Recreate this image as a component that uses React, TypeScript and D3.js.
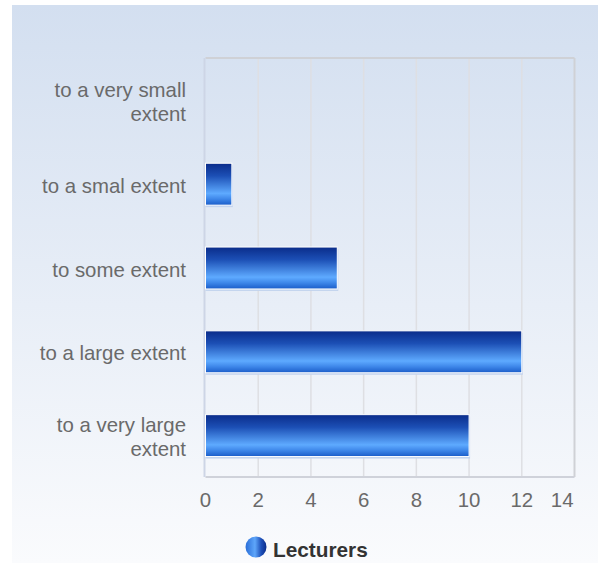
import React from "react";
import * as d3 from "d3";

const categories: string[][] = [
  ["to a very small", "extent"],
  ["to a smal extent"],
  ["to some extent"],
  ["to a large extent"],
  ["to a very large", "extent"],
];
const values: number[] = [0, 1, 5, 12, 10];
const xTicks: number[] = [0, 2, 4, 6, 8, 10, 12, 14];
const seriesName = "Lecturers";

const W = 598;
const H = 563;
const plot = { left: 205.5, right: 574.5, top: 58, bottom: 477 };

export default function App() {
  const x = d3.scaleLinear().domain([0, 14]).range([plot.left, plot.right]);
  const y = d3
    .scaleBand<number>()
    .domain(d3.range(values.length))
    .range([plot.top, plot.bottom])
    .paddingInner(0.5)
    .paddingOuter(0.25);
  const font = "'Liberation Sans', Arial, sans-serif";

  return (
    <svg
      width={W}
      height={H}
      style={{ position: "absolute", left: 0, top: 0 }}
      fontFamily={font}
    >
      <defs>
        <linearGradient id="bg" x1="0" y1="0" x2="0" y2="1">
          <stop offset="0" stopColor="#d3dff0" />
          <stop offset="1" stopColor="#fafbfd" />
        </linearGradient>
        <linearGradient id="bar" x1="0" y1="0" x2="0" y2="1">
          <stop offset="0" stopColor="#0a2c8a" />
          <stop offset="0.3" stopColor="#1c4fb5" />
          <stop offset="0.72" stopColor="#5eaaff" />
          <stop offset="0.85" stopColor="#3f88ea" />
          <stop offset="1" stopColor="#1a5cc8" />
        </linearGradient>
        <linearGradient id="leg" x1="0" y1="0" x2="1" y2="0">
          <stop offset="0" stopColor="#2a6ed8" />
          <stop offset="0.45" stopColor="#5ea6fa" />
          <stop offset="0.75" stopColor="#1d4fb8" />
          <stop offset="1" stopColor="#0a2c8a" />
        </linearGradient>
      </defs>
      <rect x={0} y={0} width={W} height={H} fill="#ffffff" />
      <rect x={12} y={5} width={W - 12} height={H - 5} fill="url(#bg)" />

      {xTicks.slice(1, -1).map((t) => (
        <line
          key={t}
          x1={x(t)}
          x2={x(t)}
          y1={plot.top}
          y2={plot.bottom}
          stroke="#dedfe3"
          strokeWidth={1.5}
        />
      ))}
      <line x1={plot.left} x2={plot.right} y1={plot.top} y2={plot.top} stroke="#cfd1d6" strokeWidth={2} />
      <line x1={plot.right} x2={plot.right} y1={plot.top} y2={plot.bottom} stroke="#cfd1d6" strokeWidth={2} />
      <line x1={plot.left} x2={plot.right} y1={plot.bottom} y2={plot.bottom} stroke="#cfd2da" strokeWidth={2} />
      <line x1={plot.left - 1} x2={plot.left - 1} y1={plot.top} y2={plot.bottom} stroke="#cdd5e6" strokeWidth={2} />

      {values.map((v, i) =>
        v > 0 ? (
          <g key={i}>
            <rect
              x={x(0)}
              y={(y(i) as number) + 2.5}
              width={x(v) - x(0) + 1}
              height={y.bandwidth()}
              fill="#c3d3ee"
            />
            <rect
              x={x(0)}
              y={(y(i) as number) + 0.5}
              width={x(v) - x(0)}
              height={y.bandwidth()}
              fill="url(#bar)"
              stroke="#ffffff"
              strokeWidth={1}
            />
          </g>
        ) : null
      )}

      {categories.map((lines, i) => {
        const cy = (y(i) as number) + y.bandwidth() / 2;
        const lh = 24;
        const start = cy + 9 - ((lines.length - 1) * lh) / 2;
        return (
          <text key={i} textAnchor="end" fontSize={20.4} fill="#6a6a6a">
            {lines.map((l, j) => (
              <tspan key={j} x={186} y={start + j * lh}>
                {l}
              </tspan>
            ))}
          </text>
        );
      })}

      {xTicks.map((t, i) => (
        <text
          key={t}
          x={i === xTicks.length - 1 ? plot.right - 1 : x(t)}
          y={507}
          textAnchor={i === xTicks.length - 1 ? "end" : "middle"}
          fontSize={20.4}
          fill="#6a6a6a"
        >
          {t}
        </text>
      ))}

      <circle cx={256} cy={547} r={10.5} fill="url(#leg)" />
      <text x={273} y={556.5} fontSize={20.8} fontWeight="bold" fill="#333333">
        {seriesName}
      </text>
    </svg>
  );
}
